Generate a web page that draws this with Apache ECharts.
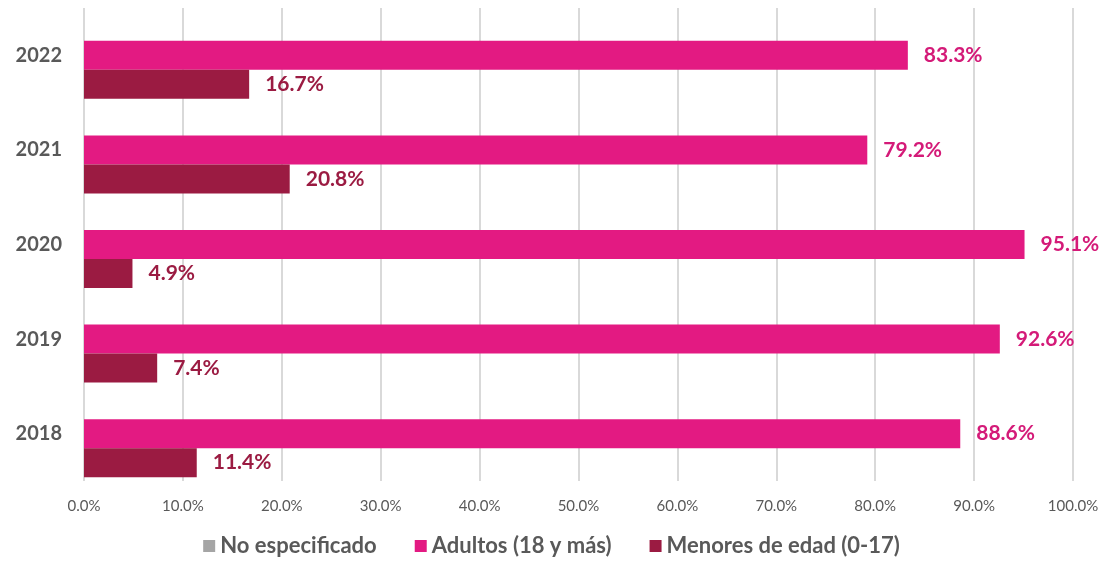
<!DOCTYPE html>
<html>
<head>
<meta charset="utf-8">
<script src="https://cdn.jsdelivr.net/npm/echarts@6/dist/echarts.min.js"></script>
<style>
  html, body { margin: 0; padding: 0; background: #fff; }
  #main { width: 1103px; height: 563px; }
</style>
</head>
<body>
<div id="main"></div>
<script>
var years = ['2018', '2019', '2020', '2021', '2022'];
var noEspecificado = [0, 0, 0, 0, 0];
var adultos = [88.6, 92.6, 95.1, 79.2, 83.3];
var menores = [11.4, 7.4, 4.9, 20.8, 16.7];
var xTicks = [0, 10, 20, 30, 40, 50, 60, 70, 80, 90, 100];

(function () {
    var myChart = echarts.init(document.getElementById('main'));
    var font = 'Lato, "Open Sans", sans-serif';

    function lbl(color) {
        return {
            show: true,
            position: 'right',
            distance: 16,
            color: color,
            fontFamily: font,
            fontWeight: 'bold',
            fontSize: 21,
            formatter: function (p) { return p.value.toFixed(1) + '%'; }
        };
    }

    var option = {
        animation: false,
        textStyle: { fontFamily: font },
        grid: { left: 84, right: 30, top: 8, bottom: 82, containLabel: false },
        legend: {
            data: ['No especificado', 'Adultos (18 y más)', 'Menores de edad (0-17)'],
            bottom: 1,
            left: 'center',
            itemWidth: 12,
            itemHeight: 12,
            itemGap: 38,
            icon: 'rect',
            textStyle: { color: '#595959', fontSize: 22, fontWeight: 'bold', fontFamily: font }
        },
        xAxis: {
            type: 'value',
            min: xTicks[0],
            max: xTicks[xTicks.length - 1],
            interval: 10,
            axisLine: { show: false },
            axisTick: { show: false },
            splitLine: { lineStyle: { color: '#d9d9d9', width: 2 } },
            axisLabel: {
                color: '#595959',
                fontSize: 15,
                margin: 18,
                formatter: function (v) { return v.toFixed(1) + '%'; }
            }
        },
        yAxis: {
            type: 'category',
            data: years,
            axisLine: { show: false },
            axisTick: { show: false },
            axisLabel: { color: '#595959', fontSize: 20, fontWeight: 'bold', margin: 22 }
        },
        series: [
            {
                name: 'No especificado',
                type: 'bar',
                data: noEspecificado,
                barWidth: 29,
                barGap: '0%',
                itemStyle: { color: '#a5a5a5' }
            },
            {
                name: 'Adultos (18 y más)',
                type: 'bar',
                data: adultos,
                barWidth: 29,
                barGap: '0%',
                itemStyle: { color: '#e31a82' },
                label: lbl('#d41a78')
            },
            {
                name: 'Menores de edad (0-17)',
                type: 'bar',
                data: menores,
                barWidth: 29,
                barGap: '0%',
                itemStyle: { color: '#9b1b42' },
                label: lbl('#9b1b42')
            }
        ]
    };
    myChart.setOption(option);
})();
</script>
</body>
</html>
